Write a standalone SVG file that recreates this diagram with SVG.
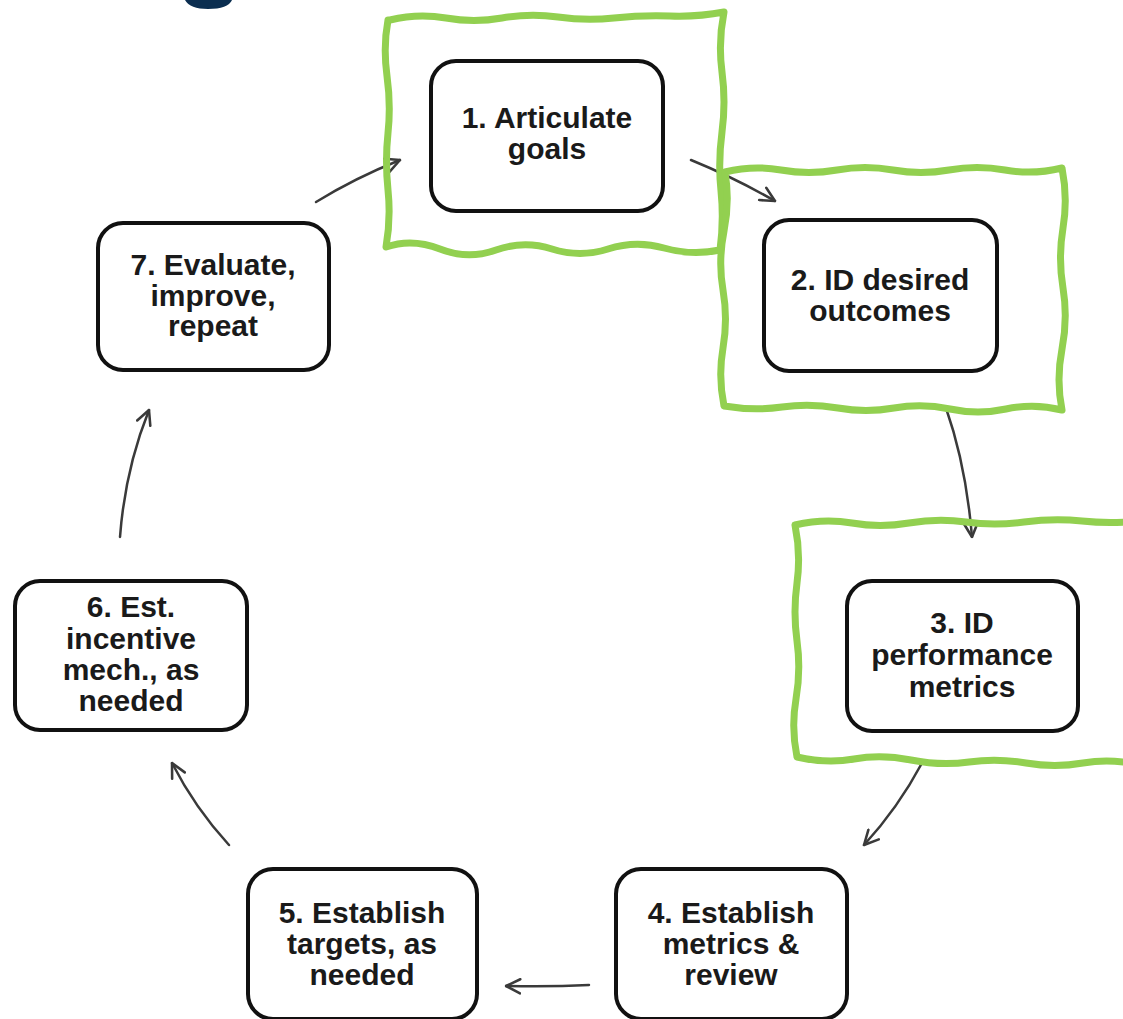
<svg xmlns="http://www.w3.org/2000/svg" width="1123" height="1019" viewBox="0 0 1123 1019">
<style>
.box{fill:#fff;stroke:#111;stroke-width:4}
.lbl{font-family:"Liberation Sans",Arial,sans-serif;font-weight:bold;font-size:30px;fill:#1a1a1a;text-anchor:middle}
.conn{fill:none;stroke:#3a3a3a;stroke-width:2.5;stroke-linecap:round;marker-end:url(#ah)}
.frame{fill:none;stroke:#92d050;stroke-width:7;stroke-linejoin:round}
</style>
<defs>
<marker id="ah" viewBox="0 0 12 12" refX="11" refY="6" markerWidth="17" markerHeight="17" markerUnits="userSpaceOnUse" orient="auto">
<path d="M1,1 L11,6 L1,11" fill="none" stroke="#3a3a3a" stroke-width="1.8" stroke-linecap="round" stroke-linejoin="round"/>
</marker>
</defs>
<rect width="1123" height="1019" fill="#fff"/>
<path d="M185,0 Q190,9 208,9 Q228,9 232,0 Z" fill="#0b2e50"/>
<g id="node1"><rect class="box" x="431" y="61" width="232" height="150" rx="25"/><text class="lbl" x="547" y="128">1. Articulate</text><text class="lbl" x="547" y="159">goals</text></g>
<g id="node2"><rect class="box" x="764" y="220" width="233" height="151" rx="25"/><text class="lbl" x="880" y="290">2. ID desired</text><text class="lbl" x="880" y="321">outcomes</text></g>
<g id="node3"><rect class="box" x="847" y="581" width="231" height="150" rx="25"/><text class="lbl" x="962" y="633">3. ID</text><text class="lbl" x="962" y="665">performance</text><text class="lbl" x="962" y="697">metrics</text></g>
<g id="node4"><rect class="box" x="616" y="869" width="231" height="150" rx="25"/><text class="lbl" x="731" y="923">4. Establish</text><text class="lbl" x="731" y="954">metrics &amp;</text><text class="lbl" x="731" y="985">review</text></g>
<g id="node5"><rect class="box" x="248" y="869" width="229" height="150" rx="25"/><text class="lbl" x="362" y="923">5. Establish</text><text class="lbl" x="362" y="954">targets, as</text><text class="lbl" x="362" y="985">needed</text></g>
<g id="node6"><rect class="box" x="15" y="581" width="232" height="149" rx="25"/><text class="lbl" x="131" y="617">6. Est.</text><text class="lbl" x="131" y="649">incentive</text><text class="lbl" x="131" y="680">mech., as</text><text class="lbl" x="131" y="711">needed</text></g>
<g id="node7"><rect class="box" x="98" y="223" width="231" height="147" rx="25"/><text class="lbl" x="213" y="275">7. Evaluate,</text><text class="lbl" x="213" y="306">improve,</text><text class="lbl" x="213" y="336">repeat</text></g>
<g id="connectors">
<path class="conn" d="M316,202 Q355,178 400,160"/>
<path class="conn" d="M691,160 Q735,178 775,201"/>
<path class="conn" d="M946,408 Q966,465 972,537"/>
<path class="conn" d="M922,763 Q898,808 864,845"/>
<path class="conn" d="M589,985 Q550,987 506,986"/>
<path class="conn" d="M229,845 Q195,808 172,763"/>
<path class="conn" d="M120,537 Q125,470 149,410"/>
</g>
<g id="highlights">
<path class="frame" d="M390,20 q28,-7 56,-2 t56,0 t56,-1 t56,1 t56,-2 t54,-4 q-6,30 -2,60 t0,60 t-1,59 t-1,59 q-28,6 -56,-2 t-56,1 t-56,0 t-56,1 t-56,-1 t-54,-2 q5,-28 2,-57 t0,-57 t-1,-57 t1,-56 Z"/>
<path class="frame" d="M725,172 q28,-7 56,-2 t56,0 t56,0 t56,0 t56,0 t57,-2 q6,30 1,60 t0,60 t-1,61 t0,61 q-28,-7 -56,-1 t-56,0 t-56,-1 t-56,0 t-56,-1 t-58,-1 q-6,-29 -1,-58 t0,-58 t1,-59 t1,-59 Z"/>
<path class="frame" d="M795,525 q29,-7 57,-2 t57,0 t57,-1 t58,0 t58,-1 t58,0 L1140,765 q-29,-7 -57,-2 t-57,0 t-57,-1 t-58,-2 t-57,-1 t-57,-2 q-6,-29 -1,-58 t1,-58 t0,-58 t-2,-58 Z"/>
</g>
</svg>
